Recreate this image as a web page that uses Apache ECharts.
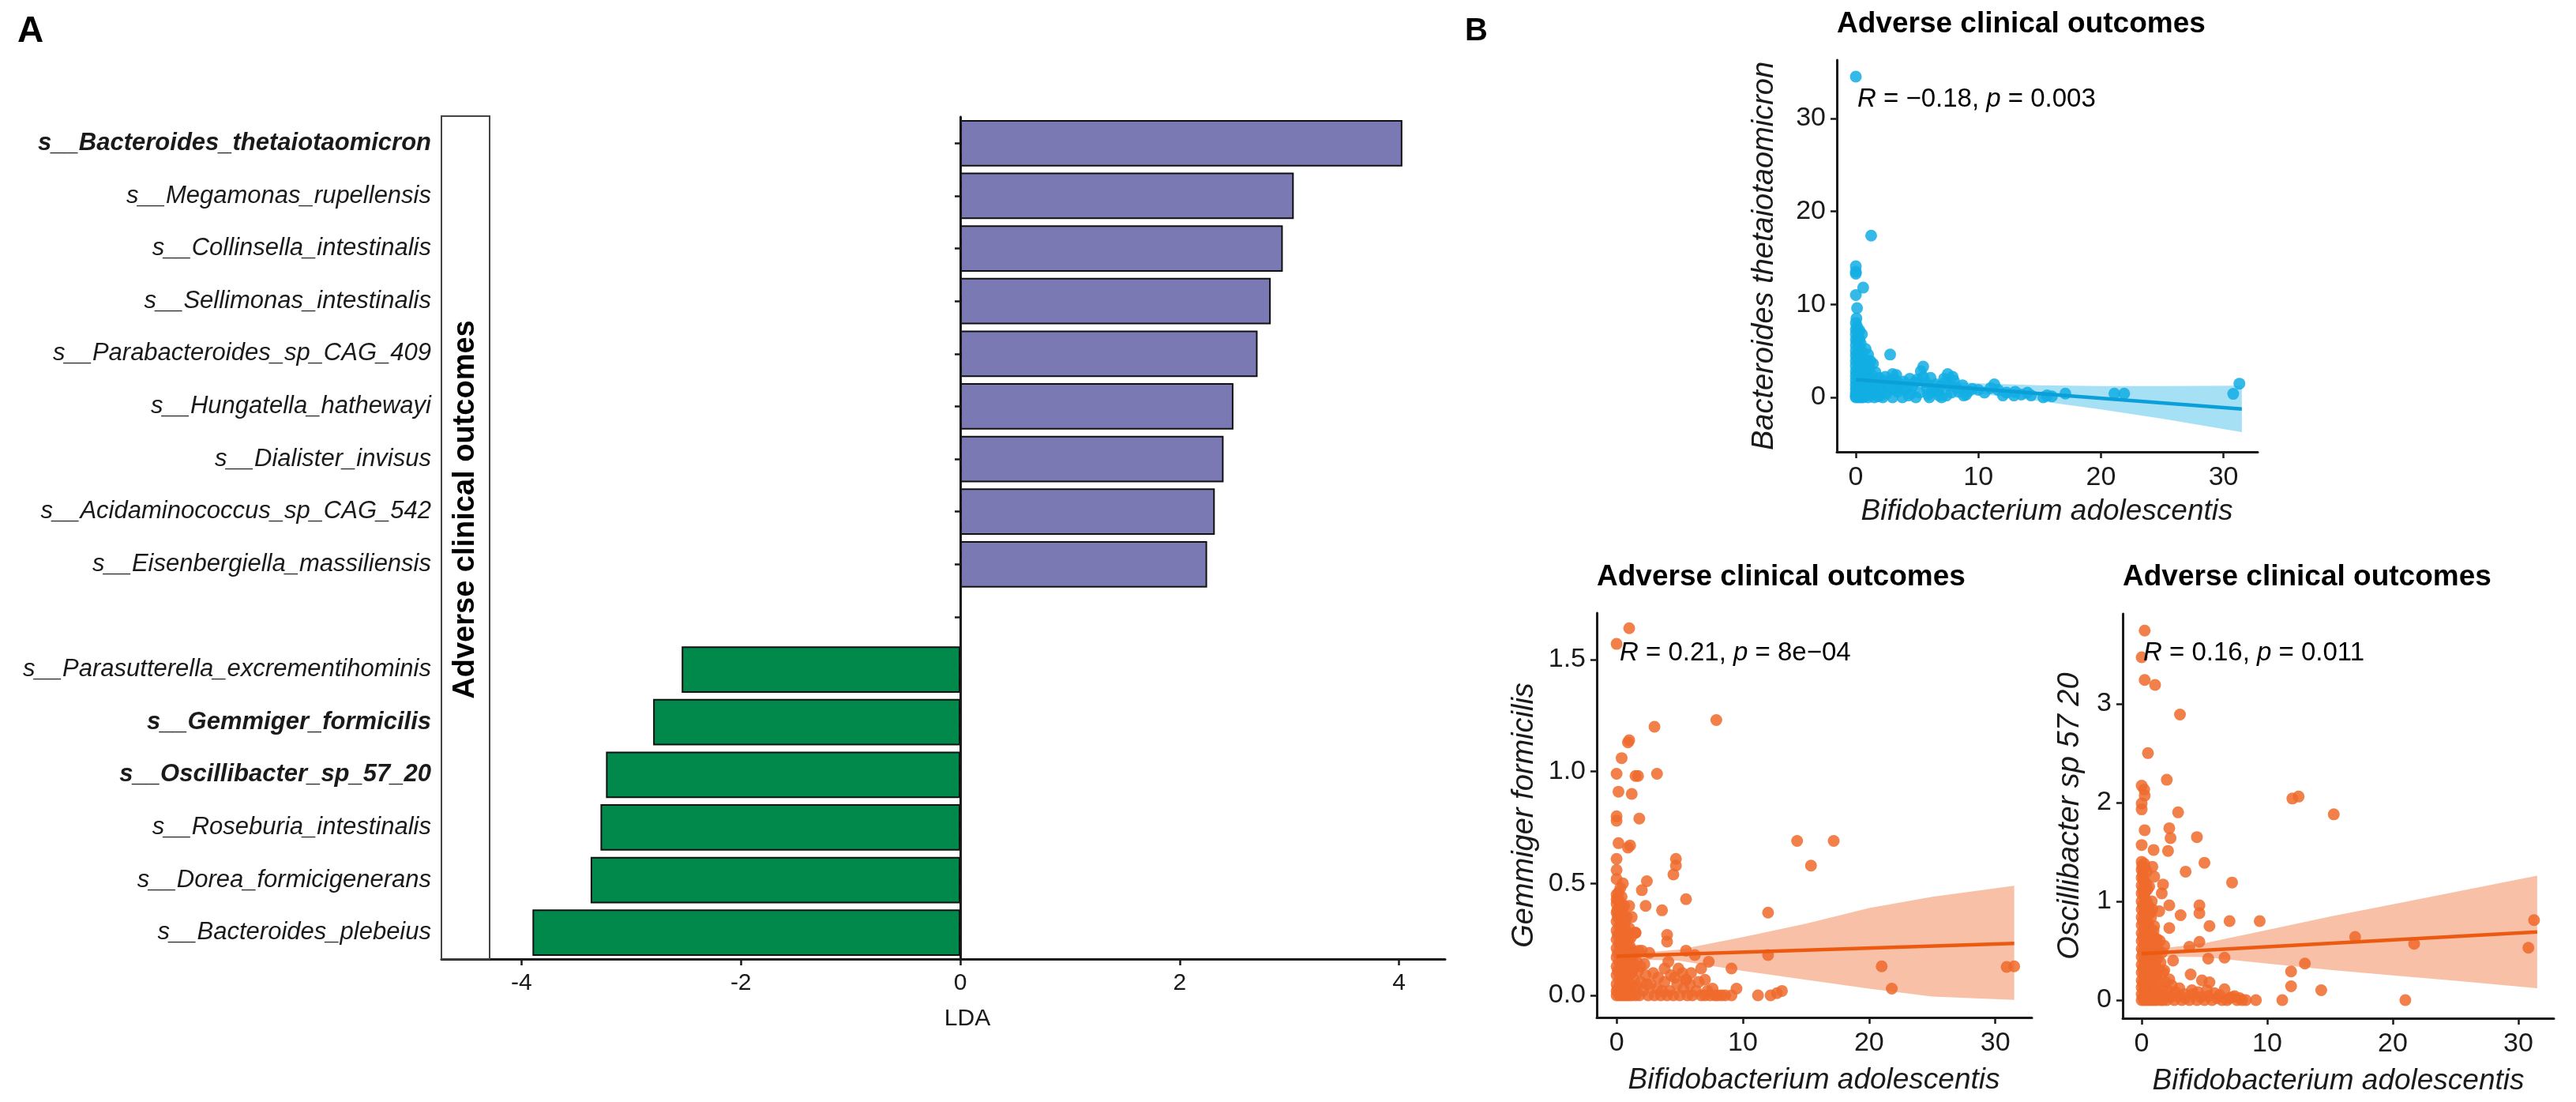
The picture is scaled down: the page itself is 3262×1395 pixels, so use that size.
<!DOCTYPE html>
<html><head><meta charset="utf-8">
<script src="https://cdn.jsdelivr.net/npm/echarts@6/dist/echarts.min.js"></script>
<style>html,body{margin:0;padding:0;background:#fff}#c{width:3262px;height:1395px}</style>
</head><body><div id="c"></div>
<script>
// ---------- Panel A data ----------
const species = ['s__Bacteroides_thetaiotaomicron','s__Megamonas_rupellensis','s__Collinsella_intestinalis','s__Sellimonas_intestinalis','s__Parabacteroides_sp_CAG_409','s__Hungatella_hathewayi','s__Dialister_invisus','s__Acidaminococcus_sp_CAG_542','s__Eisenbergiella_massiliensis','','s__Parasutterella_excrementihominis','s__Gemmiger_formicilis','s__Oscillibacter_sp_57_20','s__Roseburia_intestinalis','s__Dorea_formicigenerans','s__Bacteroides_plebeius'];
const lda = [4.03,3.04,2.94,2.83,2.71,2.49,2.40,2.32,2.25,null,-2.54,-2.80,-3.23,-3.28,-3.37,-3.90];
const boldSpecies = ['s__Bacteroides_thetaiotaomicron','s__Gemmiger_formicilis','s__Oscillibacter_sp_57_20'];
const ldaTicks = [-4,-2,0,2,4];
const stripLabel = 'Adverse clinical outcomes';

// ---------- Panel B data ----------
const plotTitle = 'Adverse clinical outcomes';
const xTitle = 'Bifidobacterium adolescentis';
const scatterXTicks = [0,10,20,30];

const bactPoints = [[0,0],[0,0.2],[0,0.5],[0,0.9],[0,1.3],[0,1.8],[0,2.3],[0,2.8],[0,3.4],[0,3.9],[0,4.5],[0,5.0],[0,5.6],[0,6.2],[0,6.8],[0,7.3],[0.1,0.1],[0.1,0.7],[0.1,1.5],[0.1,2.6],[0.1,4.2],[0.1,6.0],[0.1,7.6],[0.2,0],[0.2,0.4],[0.2,1.1],[0.2,2.0],[0.2,3.1],[0.2,4.8],[0.2,6.5],[0.3,0.2],[0.3,0.9],[0.3,1.7],[0.3,2.9],[0.3,3.8],[0.3,5.3],[0.4,0],[0.4,0.6],[0.4,1.4],[0.4,2.4],[0.4,4.4],[0.5,0.3],[0.5,1.0],[0.5,2.1],[0.5,3.3],[0.6,0],[0.6,0.8],[0.6,1.9],[0.8,0.2],[0.8,1.2],[0.8,2.8],[0.9,4.0],[1.0,0],[1.0,0.6],[1.0,1.6],[1.1,3.2],[1.2,0.3],[1.3,1.1],[1.4,3.6],[1.5,0],[1.5,0.7],[1.7,1.5],[1.8,0.1],[2.0,0.9],[2.2,0],[2.3,1.8],[2.5,0.4],[2.7,1.2],[2.8,4.6],[3.0,2.5],[3.0,0],[3.2,1.9],[3.4,0.6],[3.6,1.4],[3.8,0],[4.0,0.8],[4.3,0.2],[4.6,1.2],[4.9,0],[5.0,1.9],[5.2,0.5],[5.5,3.3],[5.5,2.2],[5.8,1.0],[6.0,0],[6.2,0.6],[6.5,1.4],[6.8,0.2],[7.0,0],[7.2,2.0],[7.5,2.5],[7.6,1.3],[7.8,0.5],[8.0,1.8],[8.2,1.0],[9.0,0.3],[9.2,0.65],[9.5,0.9],[10.0,0.8],[11.3,1.4],[11.6,0.8],[12.0,0.2],[12.3,0.5],[12.9,0.2],[13.5,0.3],[14.3,0.2],[15.3,0],[15.6,0.2],[17.1,0.4],[21.1,0.4],[21.9,0.4],[30.8,0.37],[31.3,1.47],[0,34.5],[1.25,17.4],[0,14.1],[0,13.5],[0,13.3],[0.6,11.8],[0,11.0],[0.1,9.6],[0.05,8.5],[0,8.0],
  [0.2,7.0],[0.3,6.2],[0.4,5.8],[0.5,4.9],[0.6,4.0],[0.7,3.5],[0.7,2.6],[0.9,2.2],[1.0,2.8],[1.2,2.0],[1.3,2.4],[1.6,1.0],[1.9,2.1],[2.1,1.5],[2.4,2.2],[2.6,0.8],[2.9,1.8],[3.3,2.4],[3.5,1.0],[3.9,1.7],[4.2,1.1],[4.5,0.4],[4.8,1.6],[5.3,2.8],[5.7,1.6],[6.1,2.1],[6.4,0.9],[6.9,1.2],[7.3,1.6],[7.9,2.2],[8.4,0.6],[8.7,1.3],[0.5,6.8],[0.3,7.2],[0.8,5.2],[1.0,4.6],[1.2,3.9],[0,0.1],[0.6,2.9],[1.6,2.7],[2.0,0.2],[3.1,0.9],[4.4,2.0],[5.9,0.3],[6.7,0.7],[7.4,0.2],[8.8,0.2],[10.5,0.5],[11.0,1.0],[13.0,0.6],[14.0,0.5],[16.0,0.1]];
const bactFit = [[0,1.9],[31.5,-1.25]];
const bactBand = [[0,1.4,2.4],[2,1.45,2.2],[5,1.1,1.9],[10,0.4,1.5],[15,-0.4,1.3],[20,-1.3,1.2],[25,-2.3,1.2],[31.5,-3.75,1.25]];
const bactYTicks = [0,10,20,30];

const gemmPoints = [[0,0],[0,0.02],[0,0.05],[0,0.09],[0,0.13],[0,0.17],[0,0.21],[0,0.25],[0,0.29],[0,0.33],[0,0.37],[0,0.41],[0,0.45],[0.1,0.03],[0.1,0.11],[0.1,0.19],[0.1,0.27],[0.1,0.35],[0.1,0.43],[0.2,0],[0.2,0.07],[0.2,0.15],[0.2,0.23],[0.2,0.31],[0.2,0.39],[0.3,0.04],[0.3,0.12],[0.3,0.2],[0.3,0.28],[0.3,0.36],[0.4,0],[0.4,0.09],[0.4,0.17],[0.4,0.25],[0.4,0.33],[0.4,0.44],[0.5,0.05],[0.5,0.14],[0.5,0.22],[0.5,0.3],[0.6,0],[0.6,0.1],[0.6,0.19],[0.6,0.27],[0.6,0.4],[0.7,0.03],[0.7,0.13],[0.7,0.24],[0.8,0],[0.8,0.08],[0.8,0.17],[0.8,0.35],[0.9,0.04],[0.9,0.12],[0.9,0.22],[1.0,0],[1.0,0.09],[1.0,0.3],[1.1,0.05],[1.1,0.16],[1.2,0],[1.2,0.1],[1.3,0.03],[1.3,0.2],[1.4,0.07],[1.5,0],[1.5,0.28],[1.6,0.04],[1.7,0.11],[1.8,0],[1.9,0.06],[2.0,0.2],[2.1,0.02],[2.3,0.09],[2.5,0],[2.7,0.05],[3.0,0],[3.2,0.03],[3.5,0],[3.8,0.06],[4.0,0],[4.2,0.02],[4.5,0],[4.8,0.05],[5.0,0],[5.2,0.1],[5.5,0.07],[5.6,0],[6.0,0],[6.3,0.02],[6.7,0],[7.0,0],[7.4,0],[7.8,0],[8.0,0],[1.0,1.64],[0,1.57],[3.0,1.20],[7.9,1.23],[0.9,1.13],[1.0,1.14],[0.4,1.06],[0,0.99],[1.5,0.98],[1.7,0.98],[3.2,0.99],[0.15,0.91],[1.2,0.90],[0,0.80],[0,0.78],[1.8,0.79],[0.15,0.68],[1.07,0.67],[0.9,0.66],[14.3,0.69],[17.2,0.69],[15.4,0.58],[0,0.61],[0,0.56],[0,0.52],[4.7,0.61],[4.7,0.58],[4.5,0.54],[2.4,0.51],[2.0,0.47],[5.5,0.43],[2.3,0.40],[3.6,0.38],[12.0,0.37],[1.5,0.28],[4.0,0.27],[4.0,0.24],[12.0,0.18],[9.1,0.12],[21.0,0.13],[21.8,0.03],[30.9,0.127],[31.5,0.13],[9.5,0.03],[9.1,0],[11.2,0],[12.2,0],[12.7,0.01],[13.1,0.02],[5.5,0.07],[4.1,0.15],[6.7,0.12],[7.3,0.15],[5.5,0.2],[6.2,0.18],[2.6,0.19],[3.8,0.12],[4.6,0.08],[5.8,0.05],[7.0,0.07],
  [0,0.43],[0.05,0.38],[0.15,0.46],[0.25,0.42],[0.35,0.4],[0.45,0.37],[0.55,0.35],[0.65,0.32],[0.75,0.29],[0.85,0.27],[0.95,0.25],[1.05,0.22],[1.15,0.26],[1.25,0.15],[1.35,0.12],[1.45,0.19],[1.6,0.15],[1.75,0.2],[1.9,0.13],[2.2,0.14],[2.4,0.05],[2.9,0.1],[3.3,0.08],[3.6,0.02],[4.3,0.09],[4.9,0.12],[5.3,0.03],[5.9,0.1],[6.5,0.06],[7.2,0.02],[7.6,0.03],[8.3,0],[8.6,0],[0.5,0.5],[0.3,0.48],[1.2,0.35],[1.0,0.4]];
const gemmFit = [[0,0.175],[31.5,0.232]];
const gemmBand = [[0,0.155,0.195],[2,0.16,0.19],[5,0.155,0.205],[10,0.11,0.26],[15,0.07,0.32],[20,0.03,0.39],[25,-0.005,0.44],[31.5,-0.02,0.49]];
const gemmYTicks = [0,0.5,1.0,1.5];

const osciPoints = [[0,0],[0,0.06],[0,0.13],[0,0.2],[0,0.28],[0,0.36],[0,0.44],[0,0.52],[0,0.6],[0,0.68],[0,0.76],[0,0.84],[0,0.92],[0,1.0],[0,1.08],[0,1.16],[0,1.24],[0,1.32],[0,1.4],[0.1,0.03],[0.1,0.17],[0.1,0.32],[0.1,0.48],[0.1,0.64],[0.1,0.8],[0.1,0.96],[0.1,1.12],[0.1,1.28],[0.2,0],[0.2,0.1],[0.2,0.25],[0.2,0.4],[0.2,0.56],[0.2,0.72],[0.2,0.88],[0.2,1.05],[0.2,1.2],[0.2,1.38],[0.3,0.05],[0.3,0.2],[0.3,0.35],[0.3,0.52],[0.3,0.7],[0.3,0.9],[0.3,1.1],[0.4,0],[0.4,0.14],[0.4,0.3],[0.4,0.46],[0.4,0.62],[0.4,0.8],[0.4,1.0],[0.5,0.08],[0.5,0.24],[0.5,0.42],[0.5,0.6],[0.5,0.78],[0.6,0],[0.6,0.18],[0.6,0.36],[0.6,0.55],[0.6,0.74],[0.7,0.06],[0.7,0.28],[0.7,0.5],[0.8,0],[0.8,0.15],[0.8,0.4],[0.8,0.68],[0.9,0.05],[0.9,0.3],[0.9,0.58],[1.0,0],[1.0,0.2],[1.0,0.45],[1.0,0.75],[1.1,0.1],[1.1,0.35],[1.2,0],[1.2,0.25],[1.3,0.08],[1.3,0.5],[1.4,0.18],[1.5,0],[1.5,0.38],[1.6,0.12],[1.7,0],[1.8,0.3],[1.9,0.05],[2.0,0],[2.3,0.03],[2.6,0],[2.9,0.04],[3.2,0],[3.5,0.02],[3.8,0],[4.1,0.06],[4.4,0],[4.7,0.03],[5.0,0],[5.3,0.04],[5.6,0],[6.0,0.02],[6.4,0],[6.8,0],[7.2,0.03],[7.6,0],[8.0,0],[0.24,3.74],[0,3.47],[0.24,3.24],[1.07,3.19],[3.05,2.89],[0.5,2.5],[2.0,2.23],[0,2.17],[0.2,2.13],[0.24,2.07],[0,1.99],[0,1.93],[2.9,1.9],[12.0,2.04],[12.5,2.06],[15.3,1.88],[0.24,1.72],[2.2,1.74],[2.3,1.64],[4.4,1.65],[0,1.57],[0.95,1.52],[2.1,1.51],[5.0,1.39],[0.85,1.35],[3.5,1.3],[7.2,1.19],[1.7,1.17],[1.6,1.08],[2.2,0.96],[4.6,0.96],[4.6,0.88],[3.1,0.86],[7.0,0.8],[9.4,0.8],[31.25,0.81],[30.8,0.53],[5.4,0.75],[2.2,0.73],[17.0,0.64],[21.7,0.57],[4.6,0.59],[3.8,0.54],[6.6,0.43],[5.3,0.42],[13.0,0.37],[11.9,0.29],[11.9,0.14],[14.3,0.1],[3.9,0.26],[4.8,0.2],[2.2,0.21],[5.4,0.18],[6.6,0.11],[9.1,0],[11.2,0],[21.0,0],[1.4,0.9],[1.2,0.62],[2.5,0.4],[1.8,0.55],
  [0.05,1.36],[0.15,1.22],[0.25,1.34],[0.35,1.18],[0.45,1.12],[0.55,0.95],[0.65,0.88],[0.75,0.84],[0.85,0.92],[0.95,0.7],[1.05,0.62],[1.15,0.55],[1.25,0.42],[1.35,0.3],[1.45,0.6],[1.6,0.48],[1.7,0.28],[1.9,0.18],[2.1,0.1],[2.4,0.15],[2.7,0.08],[3.0,0.12],[3.4,0.06],[4.0,0.1],[4.5,0.08],[5.2,0.1],[5.8,0.07],[6.2,0.05],[7.0,0.02],[7.4,0.04],[7.8,0.02],[8.3,0],[0.4,1.3],[0.6,1.15],[0.8,1.0],[1.0,1.25]];
const osciFit = [[0,0.47],[31.5,0.69]];
const osciBand = [[0,0.42,0.52],[2,0.44,0.53],[5,0.435,0.575],[10,0.37,0.71],[15,0.305,0.845],[20,0.25,0.97],[25,0.195,1.095],[31.5,0.12,1.26]];
const osciYTicks = [0,1,2,3];

// ---------- styling ----------
const FONT = 'Liberation Sans';
const INK = '#1a1a1a';
const PURPLE = '#7B79B4', GREEN = '#00894A';
const BLUE = '#12AEE4', BLUE_LINE = '#0A9FD9';
const ORANGE = '#EF6A2C', ORANGE_LINE = '#EC5A12';

const chart = echarts.init(document.getElementById('c'), null, {renderer:'canvas'});

function valueAxis(idx, min, max, ticks, fmt, isX){
  return {
    type:'value', gridIndex:idx, min:min, max:max,
    splitLine:{show:false},
    axisLine:{show:true, onZero:false, lineStyle:{color:INK, width:3}},
    axisTick:{show:true, length:8, lineStyle:{color:INK, width:2.5}, customValues:ticks},
    axisLabel:{show:true, customValues:ticks, margin: isX?16:14, fontFamily:FONT, fontSize:34, color:INK,
      formatter: fmt || (v => String(v))}
  };
}
function ribbon(idx, band, color, op){
  return {type:'custom', xAxisIndex:idx, yAxisIndex:idx, data:band, z:4, silent:true, clip:true,
    encode:{x:0, y:[1,2]},
    renderItem:function(params, api){
      if (params.dataIndex !== 0) return null;
      const up = [], lo = [];
      for (const d of band){ up.push(api.coord([d[0], d[2]])); lo.push(api.coord([d[0], d[1]])); }
      return {type:'polygon', shape:{points: up.concat(lo.reverse())}, style:{fill:color, opacity:op}};
    }};
}
function points(idx, pts, color){
  return {type:'scatter', xAxisIndex:idx, yAxisIndex:idx, data:pts, symbolSize:15, z:2, silent:true,
    itemStyle:{color:color, opacity:0.85}};
}
function fitLine(idx, fit, color){
  return {type:'line', xAxisIndex:idx, yAxisIndex:idx, data:fit, symbol:'none', z:5, silent:true,
    lineStyle:{color:color, width:4.5}};
}

const option = {
  animation:false,
  backgroundColor:'#fff',
  grid:[
    {left:559, top:148, width:1271, height:1066, outerBoundsMode:'none'},
    {left:2326, top:76, width:533, height:496, outerBoundsMode:'none'},
    {left:2022, top:776, width:551, height:512, outerBoundsMode:'none'},
    {left:2688, top:777, width:546, height:512, outerBoundsMode:'none'}
  ],
  xAxis:[
    {type:'value', gridIndex:0, min:-4.73, max:4.42, splitLine:{show:false},
      axisLine:{show:true, onZero:false, lineStyle:{color:INK, width:3}},
      axisTick:{show:true, length:8, lineStyle:{color:INK, width:2.5}, customValues:ldaTicks},
      axisLabel:{customValues:ldaTicks, margin:16, fontFamily:FONT, fontSize:30, color:INK}},
    valueAxis(1, -1.55, 32.8, scatterXTicks, null, true),
    valueAxis(2, -1.57, 32.9, scatterXTicks, null, true),
    valueAxis(3, -1.51, 32.83, scatterXTicks, null, true)
  ],
  yAxis:[
    {type:'category', gridIndex:0, data:species, inverse:true,
      axisLine:{show:true, lineStyle:{color:INK, width:3}},
      axisTick:{show:true, alignWithLabel:true, interval:0, length:7, lineStyle:{color:INK, width:2.5}},
      axisLabel:{interval:0, margin:13,
        formatter: v => boldSpecies.indexOf(v) >= 0 ? '{b|' + v + '}' : '{n|' + v + '}',
        rich:{
          b:{fontFamily:FONT, fontSize:31, fontStyle:'italic', fontWeight:'bold', color:INK},
          n:{fontFamily:FONT, fontSize:31, fontStyle:'italic', color:INK}
        }}},
    valueAxis(1, -5.87, 36.29, bactYTicks, null, false),
    valueAxis(2, -0.0986, 1.708, gemmYTicks, v => v.toFixed(1), false),
    valueAxis(3, -0.184, 3.91, osciYTicks, null, false)
  ],
  series:[
    {type:'line', xAxisIndex:0, yAxisIndex:0, data:[], z:1, silent:true,
      markLine:{silent:true, symbol:['none','none'], label:{show:false},
        lineStyle:{type:[10,8], color:INK, width:2.5}, data:[{xAxis:0}]}},
    {type:'bar', xAxisIndex:0, yAxisIndex:0, data:lda, barWidth:'88%', z:3, silent:true,
      itemStyle:{color: p => (p.value > 0 ? PURPLE : GREEN), borderColor:'#111', borderWidth:2}},
    points(1, bactPoints, BLUE), ribbon(1, bactBand, BLUE, 0.38), fitLine(1, bactFit, BLUE_LINE),
    points(2, gemmPoints, ORANGE), ribbon(2, gemmBand, ORANGE, 0.42), fitLine(2, gemmFit, ORANGE_LINE),
    points(3, osciPoints, ORANGE), ribbon(3, osciBand, ORANGE, 0.42), fitLine(3, osciFit, ORANGE_LINE)
  ],
  graphic:[
    {type:'rect', z:10, shape:{x:559, y:147, width:61, height:1067}, style:{fill:'#fff', stroke:'#444', lineWidth:2}},
    {type:'text', z:11, x:590, y:645, rotation:Math.PI/2,
      style:{text:stripLabel, font:'bold 38px "Liberation Sans"', fill:'#000', align:'center', verticalAlign:'middle'}},
    {type:'text', z:11, x:1225, y:1290,
      style:{text:'LDA', font:'30px "Liberation Sans"', fill:INK, align:'center', verticalAlign:'middle'}},
    {type:'text', z:11, x:22, y:40,
      style:{text:'A', font:'bold 46px "Liberation Sans"', fill:'#000', align:'left', verticalAlign:'middle'}},
    {type:'text', z:11, x:1855, y:40,
      style:{text:'B', font:'bold 40px "Liberation Sans"', fill:'#000', align:'left', verticalAlign:'middle'}},
    {type:'text', z:11, x:2326, y:31,
      style:{text:plotTitle, font:'bold 37px "Liberation Sans"', fill:'#000', align:'left', verticalAlign:'middle'}},
    {type:'text', z:11, x:2022, y:731,
      style:{text:plotTitle, font:'bold 37px "Liberation Sans"', fill:'#000', align:'left', verticalAlign:'middle'}},
    {type:'text', z:11, x:2688, y:731,
      style:{text:plotTitle, font:'bold 37px "Liberation Sans"', fill:'#000', align:'left', verticalAlign:'middle'}},
    {type:'text', z:11, x:2592, y:648,
      style:{text:xTitle, font:'italic 37px "Liberation Sans"', fill:INK, align:'center', verticalAlign:'middle'}},
    {type:'text', z:11, x:2297, y:1368,
      style:{text:xTitle, font:'italic 37px "Liberation Sans"', fill:INK, align:'center', verticalAlign:'middle'}},
    {type:'text', z:11, x:2961, y:1369,
      style:{text:xTitle, font:'italic 37px "Liberation Sans"', fill:INK, align:'center', verticalAlign:'middle'}},
    {type:'text', z:11, x:2234, y:324, rotation:Math.PI/2,
      style:{text:'Bacteroides thetaiotaomicron', font:'italic 38px "Liberation Sans"', fill:INK, align:'center', verticalAlign:'middle'}},
    {type:'text', z:11, x:1930, y:1032, rotation:Math.PI/2,
      style:{text:'Gemmiger formicilis', font:'italic 38px "Liberation Sans"', fill:INK, align:'center', verticalAlign:'middle'}},
    {type:'text', z:11, x:2621, y:1033, rotation:Math.PI/2,
      style:{text:'Oscillibacter sp 57 20', font:'italic 38px "Liberation Sans"', fill:INK, align:'center', verticalAlign:'middle'}},
    {type:'text', z:11, x:2352, y:126,
      style:{text:'{i|R} = \u22120.18, {i|p} = 0.003', font:'33px "Liberation Sans"', fill:'#000', verticalAlign:'middle',
        rich:{i:{fontStyle:'italic', fontSize:33, fontFamily:FONT}}}},
    {type:'text', z:11, x:2051, y:827,
      style:{text:'{i|R} = 0.21, {i|p} = 8e\u221204', font:'33px "Liberation Sans"', fill:'#000', verticalAlign:'middle',
        rich:{i:{fontStyle:'italic', fontSize:33, fontFamily:FONT}}}},
    {type:'text', z:11, x:2714, y:827,
      style:{text:'{i|R} = 0.16, {i|p} = 0.011', font:'33px "Liberation Sans"', fill:'#000', verticalAlign:'middle',
        rich:{i:{fontStyle:'italic', fontSize:33, fontFamily:FONT}}}}
  ]
};
chart.setOption(option);
</script>
</body></html>
